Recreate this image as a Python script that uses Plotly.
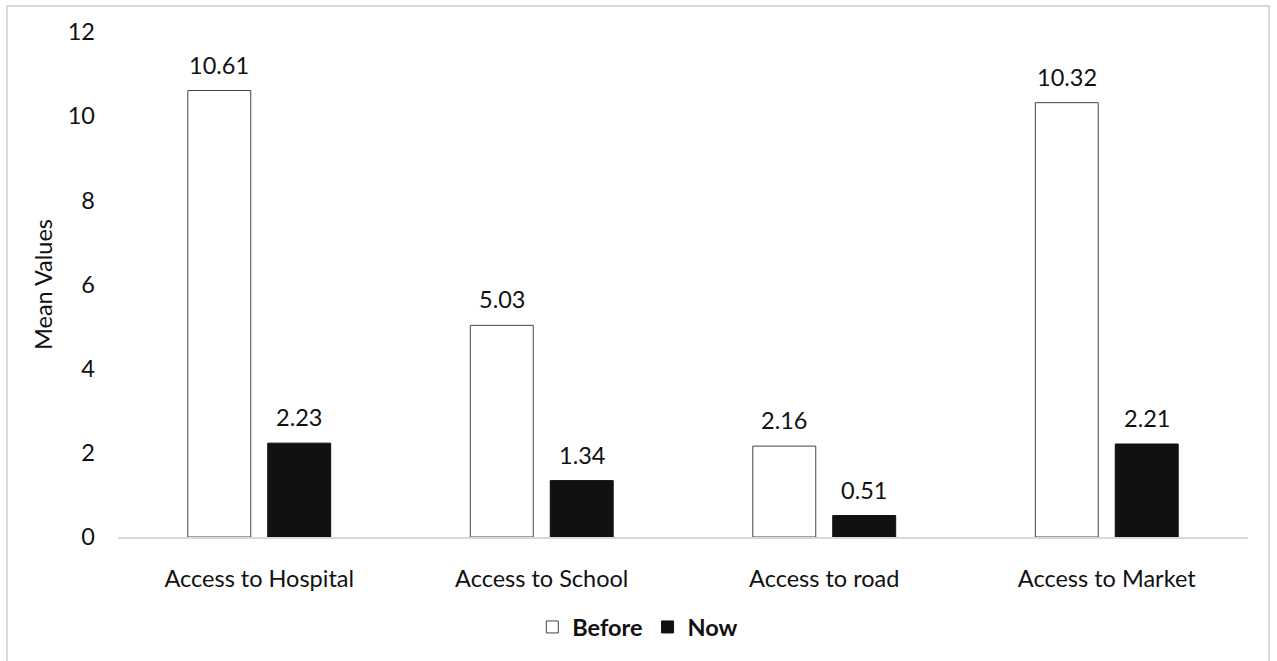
import plotly.graph_objects as go

categories = ["Access to Hospital", "Access to School", "Access to road", "Access to Market"]
before_values = [10.61, 5.03, 2.16, 10.32]
now_values = [2.23, 1.34, 0.51, 2.21]
y_ticks = [0, 2, 4, 6, 8, 10, 12]

FONT = "Lato, 'Open Sans', sans-serif"
FS = 23.5
INK = "#111111"

fig = go.Figure()
fig.add_trace(go.Bar(
    name="Before", x=categories, y=before_values,
    marker=dict(color="white", line=dict(color="#444444", width=1)),
))
fig.add_trace(go.Bar(
    name="Now", x=categories, y=now_values,
    marker=dict(color=INK, line=dict(color=INK, width=1)),
))

# value labels above each bar, offset to sit over their bar in the group
for values, dx in ((before_values, -40), (now_values, 40)):
    for cat, v in zip(categories, values):
        fig.add_annotation(x=cat, y=v, text=f"{v:.2f}", showarrow=False,
                           xshift=dx, yshift=10, yanchor="bottom",
                           font=dict(size=FS, color=INK, family=FONT))

# light grey frame around the whole chart
fig.add_shape(type="rect", xref="paper", yref="paper",
              x0=-0.0983, x1=1.0186, y0=-0.26, y1=1.0515,
              line=dict(color="#d9d9d9", width=2), fillcolor="rgba(0,0,0,0)", layer="below")

fig.update_layout(
    width=1277, height=661,
    margin=dict(l=118, r=29, t=32, b=124, autoexpand=False),
    paper_bgcolor="white", plot_bgcolor="white",
    barmode="group", bargap=0.434, bargroupgap=0.2125,
    font=dict(family=FONT, size=FS, color=INK),
    showlegend=True,
    legend=dict(orientation="h", x=0.46, xanchor="center", y=-0.135, yanchor="top",
                font=dict(size=FS, color=INK, family=FONT, weight="bold"),
                itemwidth=30, traceorder="normal"),
    yaxis=dict(range=[0, 12], tickvals=y_ticks, showgrid=False, zeroline=False,
               showline=False, ticks="", ticklabelstandoff=22, automargin=False,
               title=dict(text="Mean Values", font=dict(size=FS, family=FONT), standoff=8),
               tickfont=dict(size=FS, family=FONT)),
    xaxis=dict(showline=True, linecolor="#d9d9d9", linewidth=1.5, ticks="",
               automargin=False,
               tickfont=dict(size=FS, family=FONT), ticklabelstandoff=20),
)

fig.write_html("out.html")
